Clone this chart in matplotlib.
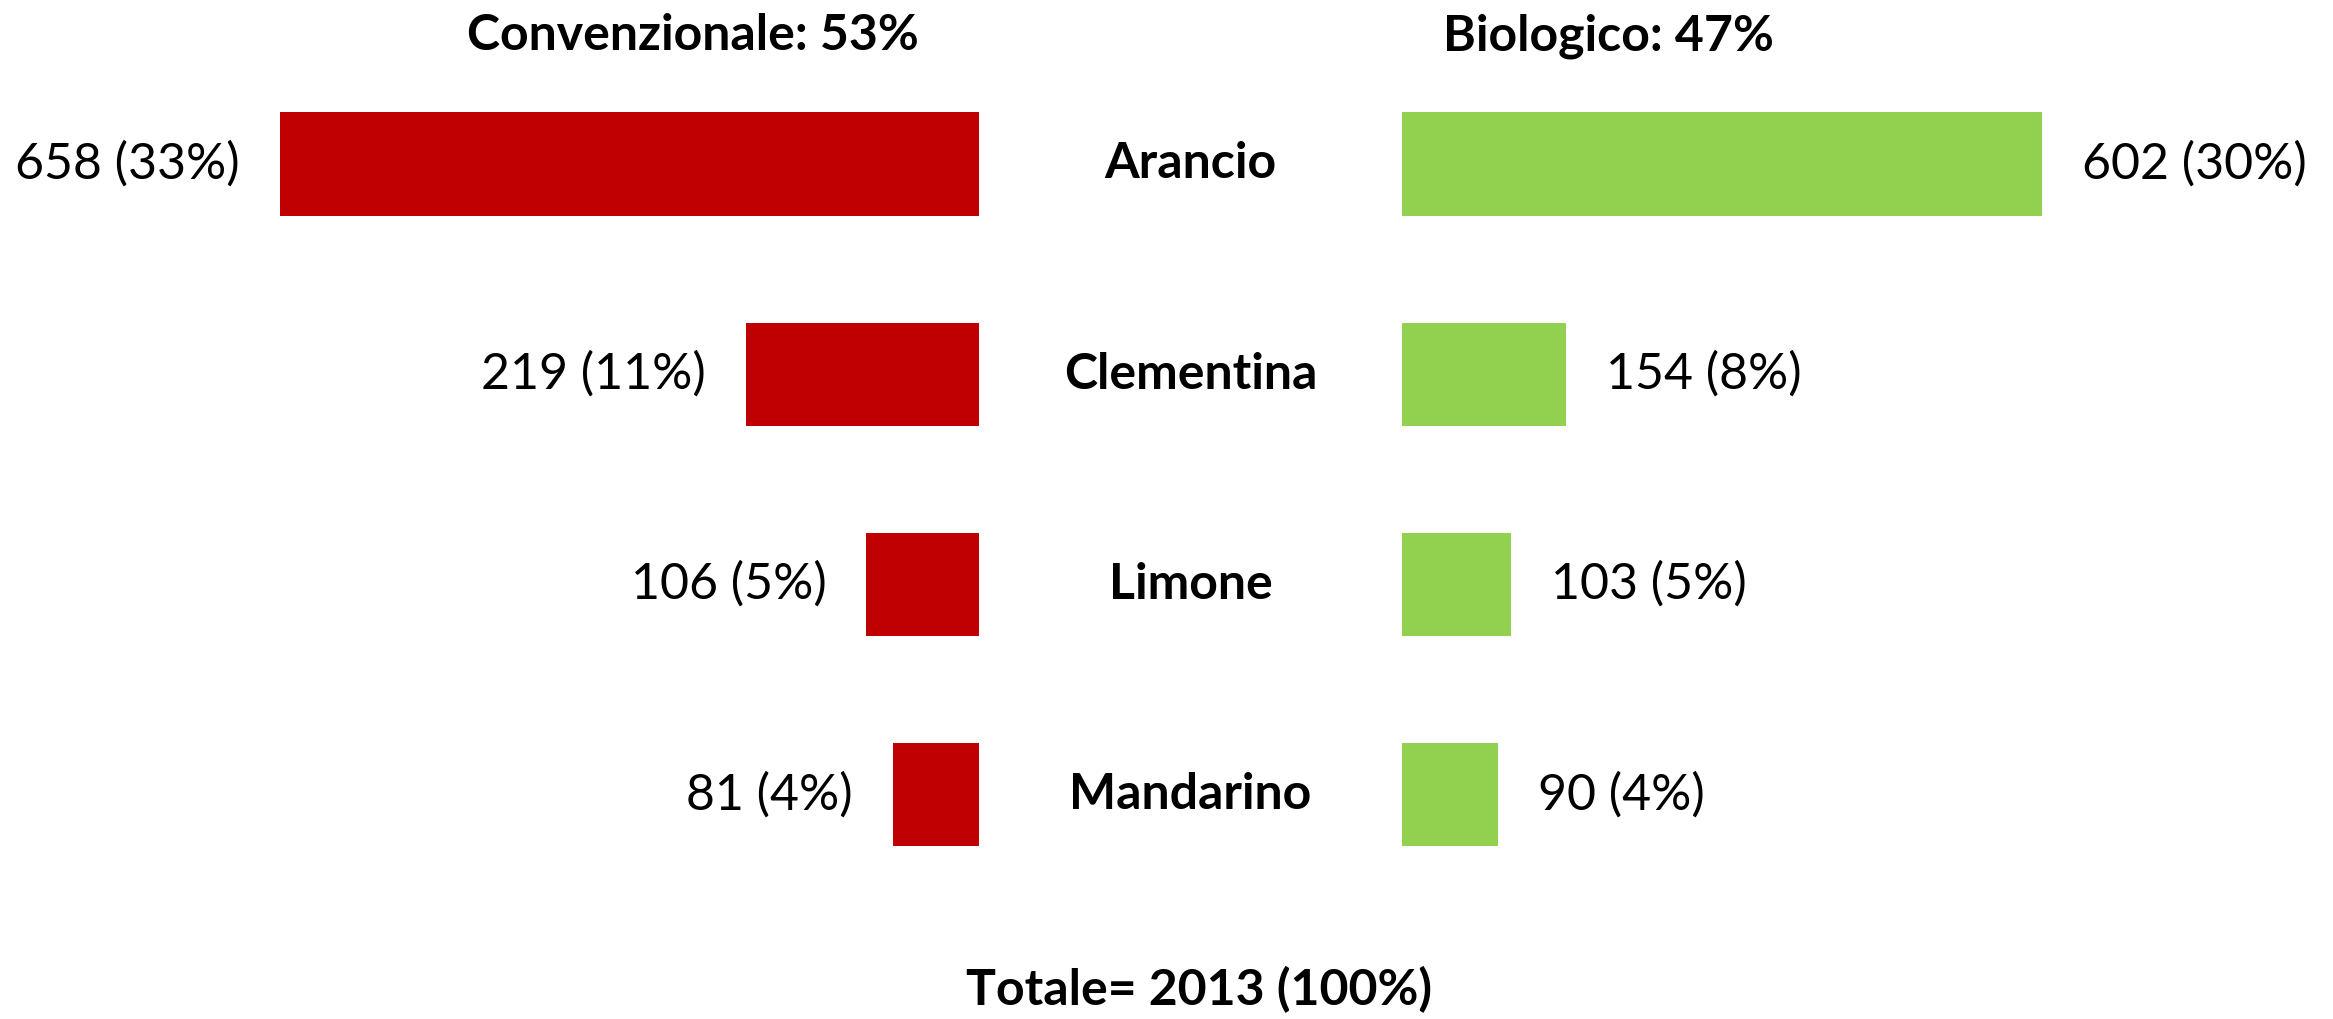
import matplotlib.pyplot as plt
from matplotlib.transforms import blended_transform_factory

plt.rcParams['font.family'] = ['Lato', 'DejaVu Sans']

categorie = ['Arancio', 'Clementina', 'Limone', 'Mandarino']
convenzionale = [658, 219, 106, 81]
conv_pct = [33, 11, 5, 4]
biologico = [602, 154, 103, 90]
bio_pct = [30, 8, 5, 4]
titolo_conv = 'Convenzionale: 53%'
titolo_bio = 'Biologico: 47%'
totale = 'Totale= 2013 (100%)'

W, H = 2333, 1019
fig = plt.figure(figsize=(W / 100, H / 100), dpi=100)

# scale: ~1.063 px per unit, rows every ~210 px
ppu = 1.063
row_px = 210.3
first_row = 164
ylim = ((H - first_row) / row_px, -first_row / row_px)

left_edge = 979
right_edge = 1402
ax_l = fig.add_axes([0, 0, left_edge / W, 1])
ax_r = fig.add_axes([right_edge / W, 0, (W - right_edge) / W, 1])
ax_l.set_xlim(left_edge / ppu, 0)
ax_r.set_xlim(0, (W - right_edge) / ppu)

pos = list(range(len(categorie)))
ax_l.barh(pos, convenzionale, height=0.49, color='#C00000')
ax_r.barh(pos, biologico, height=0.49, color='#92D050')

fs = 36
gap = 40 / ppu
for i in pos:
    ax_l.text(convenzionale[i] + gap, i, f'{convenzionale[i]} ({conv_pct[i]}%)',
              ha='right', va='center', fontsize=fs)
    ax_r.text(biologico[i] + gap, i, f'{biologico[i]} ({bio_pct[i]}%)',
              ha='left', va='center', fontsize=fs)

for ax in (ax_l, ax_r):
    ax.set_ylim(*ylim)
    ax.axis('off')

tr = blended_transform_factory(fig.transFigure, ax_l.transData)
for i, c in enumerate(categorie):
    ax_l.text((left_edge + right_edge) / 2 / W, i, c, transform=tr,
              ha='center', va='center', fontsize=fs, fontweight='bold')

fig.text(693 / W, 1 - 36 / H, titolo_conv, ha='center', va='center',
         fontsize=fs, fontweight='bold')
fig.text(1608 / W, 1 - 36 / H, titolo_bio, ha='center', va='center',
         fontsize=fs, fontweight='bold')
fig.text(1199 / W, 1 - 990 / H, totale, ha='center', va='center',
         fontsize=fs, fontweight='bold')

fig.savefig('out.png', dpi=100, facecolor='white')
